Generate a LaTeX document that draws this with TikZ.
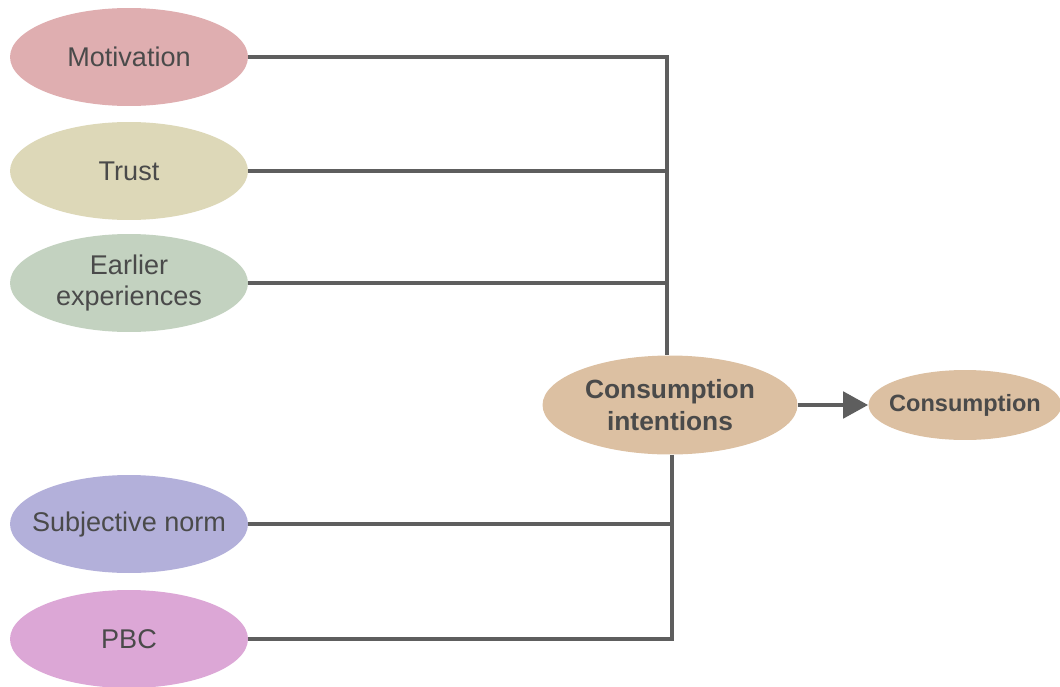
\documentclass[tikz,border=0pt]{standalone}
\usepackage{fontspec}
\setmainfont{Liberation Sans}
\usetikzlibrary{arrows.meta,positioning,shapes.geometric}

\definecolor{motivcol}{HTML}{DFAEB0}
\definecolor{trustcol}{HTML}{DDD8B8}
\definecolor{earlycol}{HTML}{C3D2C0}
\definecolor{normcol}{HTML}{B3B0DA}
\definecolor{pbccol}{HTML}{DCA7D6}
\definecolor{conscol}{HTML}{DCC0A2}
\definecolor{linkcol}{HTML}{5E5E5E}
\definecolor{textcol}{HTML}{4A4A4A}

\tikzset{
  factor/.style={ellipse, inner xsep=-0.8cm, inner ysep=0pt, minimum width=4.76cm, minimum height=1.96cm,
    text=textcol, font=\fontsize{15.4}{18}\selectfont, align=center},
  outcome/.style={ellipse, fill=conscol, inner xsep=-0.6cm, inner ysep=0pt, text=textcol, align=center},
  link/.style={draw=linkcol, line width=2.8pt},
}

\begin{document}
\begin{tikzpicture}[x=0.02cm,y=-0.02cm]
\useasboundingbox (0,0) rectangle (1060,686);
\node[factor, fill=motivcol] (motivation) at (129,57)  {Motivation};
\node[factor, fill=trustcol] (trust)      at (129,171) {Trust};
\node[factor, fill=earlycol] (earlier)    at (129,283) {Earlier\\experiences};
\node[factor, fill=normcol]  (norm)       at (129,524) {Subjective norm};
\node[factor, fill=pbccol]   (pbc)        at (129,639) {PBC};
\node[outcome, minimum width=5.1cm, minimum height=1.98cm,
      font=\bfseries\fontsize{15}{18}\selectfont] (intentions) at (670,405)
      {Consumption\\intentions};
\node[outcome, minimum width=3.86cm, minimum height=1.4cm,
      font=\bfseries\fontsize{13.4}{16}\selectfont] (consumption) at (965,405) {Consumption};

\coordinate (topjoin) at (667,57);
\coordinate (botjoin) at (672,639);

% upper factors
\draw[link] (motivation.east) -- (topjoin) -- (topjoin |- intentions.north);
\draw[link] (trust.east) -- (trust.east -| topjoin);
\draw[link] (earlier.east) -- (earlier.east -| topjoin);
% lower factors
\draw[link] (intentions.south -| botjoin) -- (botjoin) -- (pbc.east);
\draw[link] (norm.east) -- (norm.east -| botjoin);

\draw[link, -{Triangle[length=0.5cm, width=0.52cm]}] (intentions.east) -- (consumption.west);
\end{tikzpicture}
\end{document}
